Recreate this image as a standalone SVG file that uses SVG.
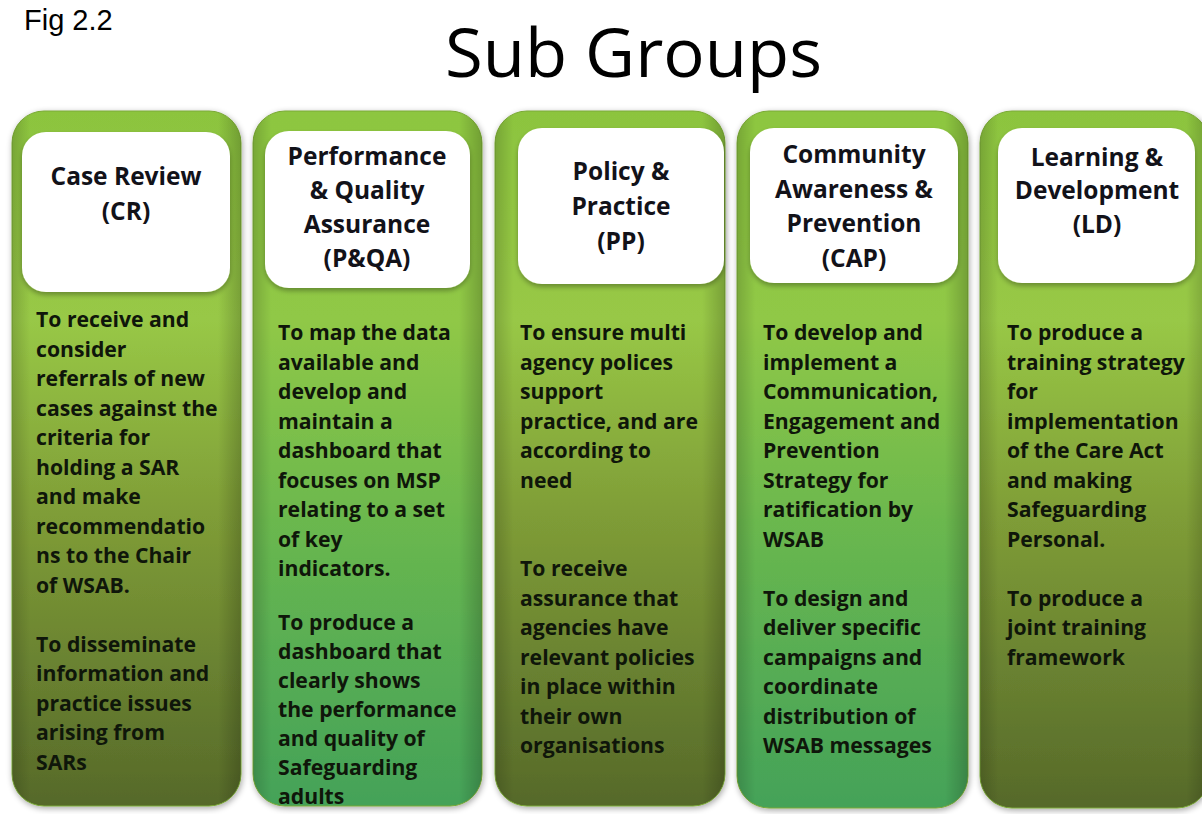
<svg xmlns="http://www.w3.org/2000/svg" width="1202" height="814" viewBox="0 0 1202 814">
  <defs>
    <!-- olive column body -->
    <linearGradient id="gOlive" x1="0" y1="0" x2="0" y2="1">
      <stop offset="0" stop-color="#8cc43e"/>
      <stop offset="0.3" stop-color="#98c846"/>
      <stop offset="0.58" stop-color="#7f9d37"/>
      <stop offset="1" stop-color="#56692a"/>
    </linearGradient>
    <!-- green column body -->
    <linearGradient id="gGreen" x1="0" y1="0" x2="0" y2="1">
      <stop offset="0" stop-color="#8dc63f"/>
      <stop offset="0.3" stop-color="#90c846"/>
      <stop offset="0.62" stop-color="#67b64f"/>
      <stop offset="1" stop-color="#44a259"/>
    </linearGradient>
    <!-- rounded side shading -->
    <linearGradient id="gSide" x1="0" y1="0" x2="1" y2="0">
      <stop offset="0" stop-color="#000" stop-opacity="0.16"/>
      <stop offset="0.08" stop-color="#000" stop-opacity="0"/>
      <stop offset="0.9" stop-color="#000" stop-opacity="0"/>
      <stop offset="1" stop-color="#000" stop-opacity="0.2"/>
    </linearGradient>
    <filter id="shadow" x="-10%" y="-5%" width="120%" height="110%">
      <feGaussianBlur in="SourceAlpha" stdDeviation="3"/>
      <feOffset dx="1" dy="2" result="b"/>
      <feComponentTransfer><feFuncA type="linear" slope="0.35"/></feComponentTransfer>
      <feMerge><feMergeNode/><feMergeNode in="SourceGraphic"/></feMerge>
    </filter>
    <filter id="boxShadow" x="-10%" y="-10%" width="120%" height="125%">
      <feGaussianBlur in="SourceAlpha" stdDeviation="2.5"/>
      <feOffset dx="0" dy="3"/>
      <feComponentTransfer><feFuncA type="linear" slope="0.3"/></feComponentTransfer>
      <feMerge><feMergeNode/><feMergeNode in="SourceGraphic"/></feMerge>
    </filter>
  </defs>
  <style>
    .fig { font-family: "Liberation Sans", Arial, sans-serif; font-size: 29px; fill: #000; }
    .title { font-family: "Open Sans", "Noto Sans", sans-serif; font-size: 68px; fill: #000; }
    .col { stroke: #7aa936; stroke-width: 1; }
    .side { fill: url(#gSide); }
    .head { fill: #fff; }
    .hd { font-family: "Open Sans", "Noto Sans", sans-serif; font-weight: 700; font-size: 24.5px; fill: #121219; text-anchor: middle; }
    .bd { font-family: "Open Sans", "Noto Sans", sans-serif; font-weight: 700; font-size: 21.2px; fill: #0f160a; }
  </style>

  <rect width="1202" height="814" fill="#fff"/>

  <text class="fig" x="24" y="30">Fig 2.2</text>
  <text class="title" x="445" y="77" textLength="377" lengthAdjust="spacingAndGlyphs">Sub Groups</text>

  <!-- Case Review -->
  <g id="case-review">
    <g filter="url(#shadow)">
      <rect class="col" x="12" y="111" width="229" height="695" rx="32" fill="url(#gOlive)"/>
    </g>
    <rect class="side" x="12" y="111" width="229" height="695" rx="32"/>
    <rect class="head" x="22" y="132" width="208" height="160" rx="24" filter="url(#boxShadow)"/>
    <text class="hd" x="126" y="185">Case Review</text>
    <text class="hd" x="126" y="220">(CR)</text>
    <text class="bd" x="36" y="327">
      <tspan x="36">To receive and</tspan>
      <tspan x="36" dy="29.5">consider</tspan>
      <tspan x="36" dy="29.5">referrals of new</tspan>
      <tspan x="36" dy="29.5">cases against the</tspan>
      <tspan x="36" dy="29.5">criteria for</tspan>
      <tspan x="36" dy="29.5">holding a SAR</tspan>
      <tspan x="36" dy="29.5">and make</tspan>
      <tspan x="36" dy="29.5">recommendatio</tspan>
      <tspan x="36" dy="29.5">ns to the Chair</tspan>
      <tspan x="36" dy="29.5">of WSAB.</tspan>
      <tspan x="36" dy="59">To disseminate</tspan>
      <tspan x="36" dy="29.5">information and</tspan>
      <tspan x="36" dy="29.5">practice issues</tspan>
      <tspan x="36" dy="29.5">arising from</tspan>
      <tspan x="36" dy="29.5">SARs</tspan>
    </text>
  </g>

  <!-- Performance & Quality Assurance -->
  <g id="performance-quality">
    <g filter="url(#shadow)">
      <rect class="col" x="253" y="111" width="229" height="695" rx="32" fill="url(#gGreen)"/>
    </g>
    <rect class="side" x="253" y="111" width="229" height="695" rx="32"/>
    <rect class="head" x="265" y="131" width="205" height="157" rx="24" filter="url(#boxShadow)"/>
    <text class="hd" x="367" y="165">Performance</text>
    <text class="hd" x="367" y="199">&amp; Quality</text>
    <text class="hd" x="367" y="233">Assurance</text>
    <text class="hd" x="367" y="267">(P&amp;QA)</text>
    <text class="bd" x="278" y="340">
      <tspan x="278">To map the data</tspan>
      <tspan x="278" dy="29.5">available and</tspan>
      <tspan x="278" dy="29.5">develop and</tspan>
      <tspan x="278" dy="29.5">maintain a</tspan>
      <tspan x="278" dy="29.5">dashboard that</tspan>
      <tspan x="278" dy="29.5">focuses on MSP</tspan>
      <tspan x="278" dy="29.5">relating to a set</tspan>
      <tspan x="278" dy="29.5">of key</tspan>
      <tspan x="278" dy="29.5">indicators.</tspan>
      <tspan x="278" dy="54">To produce a</tspan>
      <tspan x="278" dy="29">dashboard that</tspan>
      <tspan x="278" dy="29">clearly shows</tspan>
      <tspan x="278" dy="29">the performance</tspan>
      <tspan x="278" dy="29">and quality of</tspan>
      <tspan x="278" dy="29">Safeguarding</tspan>
      <tspan x="278" dy="29">adults</tspan>
    </text>
  </g>

  <!-- Policy & Practice -->
  <g id="policy-practice">
    <g filter="url(#shadow)">
      <rect class="col" x="495" y="111" width="230" height="695" rx="32" fill="url(#gOlive)"/>
    </g>
    <rect class="side" x="495" y="111" width="230" height="695" rx="32"/>
    <rect class="head" x="518" y="128" width="206" height="156" rx="24" filter="url(#boxShadow)"/>
    <text class="hd" x="621" y="180">Policy &amp;</text>
    <text class="hd" x="621" y="215">Practice</text>
    <text class="hd" x="621" y="250">(PP)</text>
    <text class="bd" x="520" y="340">
      <tspan x="520">To ensure multi</tspan>
      <tspan x="520" dy="29.5">agency polices</tspan>
      <tspan x="520" dy="29.5">support</tspan>
      <tspan x="520" dy="29.5">practice, and are</tspan>
      <tspan x="520" dy="29.5">according to</tspan>
      <tspan x="520" dy="29.5">need</tspan>
      <tspan x="520" dy="88.5">To receive</tspan>
      <tspan x="520" dy="29.5">assurance that</tspan>
      <tspan x="520" dy="29.5">agencies have</tspan>
      <tspan x="520" dy="29.5">relevant policies</tspan>
      <tspan x="520" dy="29.5">in place within</tspan>
      <tspan x="520" dy="29.5">their own</tspan>
      <tspan x="520" dy="29.5">organisations</tspan>
    </text>
  </g>

  <!-- Community Awareness & Prevention -->
  <g id="community-awareness">
    <g filter="url(#shadow)">
      <rect class="col" x="737" y="111" width="231" height="697" rx="32" fill="url(#gGreen)"/>
    </g>
    <rect class="side" x="737" y="111" width="231" height="697" rx="32"/>
    <rect class="head" x="750" y="128" width="208" height="155" rx="24" filter="url(#boxShadow)"/>
    <text class="hd" x="854" y="163">Community</text>
    <text class="hd" x="854" y="198">Awareness &amp;</text>
    <text class="hd" x="854" y="232">Prevention</text>
    <text class="hd" x="854" y="267">(CAP)</text>
    <text class="bd" x="763" y="340">
      <tspan x="763">To develop and</tspan>
      <tspan x="763" dy="29.5">implement a</tspan>
      <tspan x="763" dy="29.5">Communication,</tspan>
      <tspan x="763" dy="29.5">Engagement and</tspan>
      <tspan x="763" dy="29.5">Prevention</tspan>
      <tspan x="763" dy="29.5">Strategy for</tspan>
      <tspan x="763" dy="29.5">ratification by</tspan>
      <tspan x="763" dy="29.5">WSAB</tspan>
      <tspan x="763" dy="59">To design and</tspan>
      <tspan x="763" dy="29.5">deliver specific</tspan>
      <tspan x="763" dy="29.5">campaigns and</tspan>
      <tspan x="763" dy="29.5">coordinate</tspan>
      <tspan x="763" dy="29.5">distribution of</tspan>
      <tspan x="763" dy="29.5">WSAB messages</tspan>
    </text>
  </g>

  <!-- Learning & Development -->
  <g id="learning-development">
    <g filter="url(#shadow)">
      <rect class="col" x="980" y="111" width="229" height="697" rx="32" fill="url(#gOlive)"/>
    </g>
    <rect class="side" x="980" y="111" width="229" height="697" rx="32"/>
    <rect class="head" x="998" y="128" width="197" height="155" rx="24" filter="url(#boxShadow)"/>
    <text class="hd" x="1097" y="166">Learning &amp;</text>
    <text class="hd" x="1097" y="199">Development</text>
    <text class="hd" x="1097" y="233">(LD)</text>
    <text class="bd" x="1007" y="340">
      <tspan x="1007">To produce a</tspan>
      <tspan x="1007" dy="29.5">training strategy</tspan>
      <tspan x="1007" dy="29.5">for</tspan>
      <tspan x="1007" dy="29.5">implementation</tspan>
      <tspan x="1007" dy="29.5">of the Care Act</tspan>
      <tspan x="1007" dy="29.5">and making</tspan>
      <tspan x="1007" dy="29.5">Safeguarding</tspan>
      <tspan x="1007" dy="29.5">Personal.</tspan>
      <tspan x="1007" dy="59">To produce a</tspan>
      <tspan x="1007" dy="29.5">joint training</tspan>
      <tspan x="1007" dy="29.5">framework</tspan>
    </text>
  </g>
</svg>
